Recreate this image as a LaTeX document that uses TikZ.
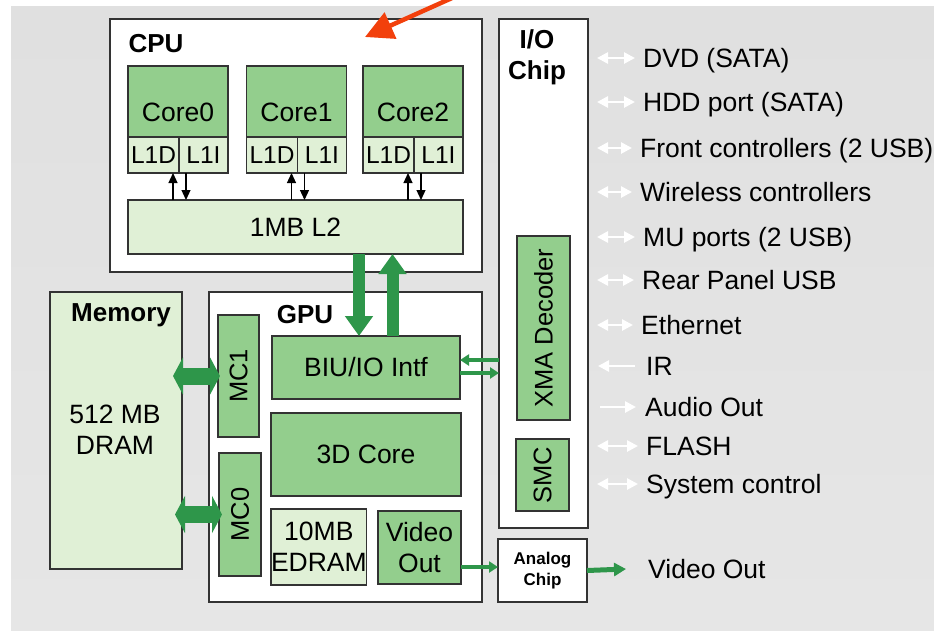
\documentclass[tikz,border=0pt]{standalone}
\usepackage{fontspec}
\setmainfont{Liberation Sans}
\usetikzlibrary{arrows.meta}

\definecolor{midgreen}{RGB}{147,206,141}
\definecolor{palegreen}{RGB}{224,240,214}
\definecolor{busgreen}{RGB}{46,150,74}
\definecolor{pointer}{RGB}{242,64,12}
\definecolor{bgtop}{RGB}{224,224,224}
\definecolor{bgmid}{RGB}{197,197,197}
\definecolor{bgbot}{RGB}{230,230,230}

\begin{document}
\begin{tikzpicture}[x=1pt, y=-1pt,
	tx/.style={font=\fontsize{26.5}{31}\selectfont},
	blk/.style={tx, draw=black!80, line width=1.1pt, inner sep=0pt, outer sep=0pt, anchor=north west, align=center},
	chip/.style={blk, fill=white},
	unit/.style={blk, fill=midgreen},
	cache/.style={blk, fill=palegreen},
	ttl/.style={font=\fontsize{26}{31}\selectfont\bfseries, inner sep=0pt, align=center},
	vert/.style={rotate=90, font=\fontsize{25.5}{30}\selectfont},
	port/.style={tx, anchor=west, inner sep=0pt, text height=19pt, text depth=0pt},
	wire/.style={white, line width=2.6pt, >={Triangle[length=11pt,width=11pt]}},
	sarr/.style={line width=1.2pt, -{Triangle[length=10pt,width=9pt]}},
	fat/.style={busgreen, line width=12pt, -{Triangle[length=20pt,width=27pt]}},
	memlink/.style={busgreen, line width=17pt, {Triangle[length=10pt,width=37pt]}-{Triangle[length=10pt,width=37pt]}},
	bus/.style={busgreen, line width=4pt, -{Triangle[length=9pt,width=11pt]}}]
	
	\useasboundingbox (0,0) rectangle (934,630);
	\fill[white] (0,0) rectangle (934,630);
	\shade[top color=bgtop, middle color=bgmid, bottom color=bgbot] (11,6) rectangle (934,630);
	
	% CPU
	\node[chip, minimum width=372pt, minimum height=253pt] (cpu) at (110,19) {};
	\node[ttl] (cputtl) at (156,44) {CPU};
	\node[cache, minimum width=335pt, minimum height=54pt] (l2) at (128,200) {1MB L2};
	\foreach \i/\x in {0/128,1/246.5,2/363}{
		\node[unit, minimum width=100pt, minimum height=71pt, label={[tx, yshift=-11pt]center:Core\i}] (core\i) at (\x,66) {};
		\node[cache, minimum width=51pt, minimum height=36pt, font=\fontsize{24.5}{29}\selectfont] (l1d\i) at (core\i.south west) {L1D};
		\node[cache, minimum width=49pt, minimum height=36pt, font=\fontsize{24.5}{29}\selectfont] (l1i\i) at (l1d\i.north east) {L1I};
		\coordinate (up\i) at ([xshift=-6pt]l1d\i.south east);
		\coordinate (dn\i) at ([xshift=7pt]l1i\i.south west);
		\draw[sarr] (up\i |- l2.north) -- (up\i);
		\draw[sarr] (dn\i) -- (dn\i |- l2.north);
	}
	
	% memory and GPU
	\node[cache, minimum width=132pt, minimum height=277pt] (mem) at (50,292) {};
	\node[ttl] (memttl) at (121,315) {Memory};
	\node[tx, align=center, inner sep=0pt] (memtxt) at (115,430) {512 MB\\DRAM};
	
	\node[chip, minimum width=273pt, minimum height=310pt] (gpu) at (209,292) {};
	\node[ttl] (gputtl) at (305,315) {GPU};
	\node[unit, minimum width=41pt, minimum height=122pt, label={[vert]center:MC1}] (mc1) at (218,315) {};
	\node[unit, minimum width=42pt, minimum height=123pt, label={[vert]center:MC0}] (mc0) at (219,453) {};
	\node[unit, minimum width=188pt, minimum height=63pt] (biu) at (272,336) {BIU/IO Intf};
	\node[unit, minimum width=190pt, minimum height=83pt] (core3d) at (271,413) {3D Core};
	\node[cache, minimum width=94pt, minimum height=76pt] (edram) at (271,509) {10MB\\EDRAM};
	\node[unit, minimum width=83pt, minimum height=73pt] (vidout) at (378,511) {Video\\Out};
	
	% I/O chip
	\node[chip, minimum width=89pt, minimum height=509pt] (iochip) at (499,19) {};
	\node[ttl] (iottl) at (537,57.5) {I/O\\Chip};
	\node[unit, minimum width=53pt, minimum height=184pt, label={[vert]center:XMA Decoder}] (xma) at (517,236) {};
	\node[unit, minimum width=53pt, minimum height=72pt, label={[vert]center:SMC}] (smc) at (516,439) {};
	\node[chip, minimum width=89pt, minimum height=63pt, font=\fontsize{17}{21}\selectfont\bfseries] (analog) at (498,539) {Analog\\Chip};
	
	% buses
	\coordinate (down) at ([xshift=231pt]l2.south west);
	\coordinate (up) at ([xshift=264.5pt]l2.south west);
	\draw[fat] (down) -- (down |- biu.north);
	\draw[fat] (up |- biu.north) -- (up);
	
	\draw[memlink, shorten <=-9pt, shorten >=-2pt] (mc1.west -| mem.east) -- (mc1.west);
	\draw[memlink, shorten <=-7pt, shorten >=-3pt] (mc0.west -| mem.east) -- (mc0.west);
	
	\coordinate (biuin) at ([yshift=7.5pt]biu.east);
	\coordinate (biuout) at ([yshift=-5.5pt]biu.east);
	\draw[bus] (biuin -| iochip.west) -- (biuin);
	\draw[bus] (biuout) -- (biuout -| iochip.west);
	
	\coordinate (vidtap) at ([yshift=-19.5pt]vidout.east);
	\draw[bus] (vidtap) -- (vidtap -| analog.west);
	
	% ports
	\foreach \y/\x/\txt [count=\n] in {58/643/DVD (SATA), 102/643/HDD port (SATA), 148/640/Front controllers (2 USB), 192/640/Wireless controllers, 237/643/MU ports (2 USB), 280/642/Rear Panel USB, 325/641/Ethernet, 446/646/FLASH, 484/646/System control}{
		\node[port] (io\n) at (\x,\y) {\txt};
		\draw[wire, <->] (597,\y) -- ([xshift=-8pt]io\n.west);
	}
	\node[port] (ir) at (646,366) {IR};
	\draw[wire, <-] (598,366) -- ([xshift=-11pt]ir.west);
	\node[port] (audio) at (645,407) {Audio Out};
	\draw[wire, ->] (600,407) -- ([xshift=-9pt]audio.west);
	\node[port] (vidtxt) at (648,569) {Video Out};
	\draw[bus, line width=5pt, -{Triangle[length=12pt,width=13pt]}] (analog.east) -- ([xshift=-22pt]vidtxt.west);
	
	% pointer
	\coordinate (ptrtail) at (452,-2);
	\coordinate (ptrtip) at (365,37);
	\draw[pointer, line width=4.5pt, -{Triangle[length=28pt,width=28pt]}] (ptrtail) -- (ptrtip);
\end{tikzpicture}
\end{document}
